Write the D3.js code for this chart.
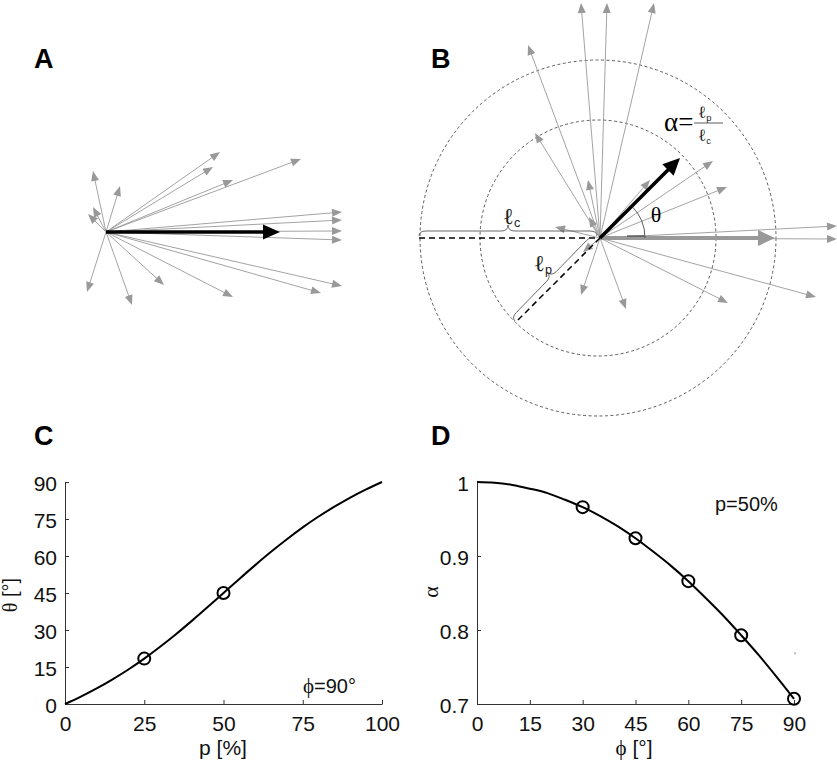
<!DOCTYPE html>
<html><head><meta charset="utf-8">
<script src="https://cdn.jsdelivr.net/npm/d3@7"></script>
<style>body{margin:0;background:#fff} svg{display:block}</style>
</head><body>
<svg id="c" width="837" height="764"></svg>
<script>
// ---------- DATA ----------
// Panel A: gray vectors (dx, dy) relative to origin, y pointing up
const vecA_dx = [114,107,127,195,-13,14,-18,-13,236,236,236,236,236,215,127,58,26,-19];
const vecA_dy = [80,65,52,73,61,46,18,25,20,12,1,-8,-54,-61,-65,-53,-73,-60];
const meanA = [174, 0];
// Panel B: gray vectors
const vecB_dx = [-19,7,54,-72,-65,-12,-11,-45,-17,-19,26,128,216,237,237,127,113,50];
const vecB_dy = [235,235,235,193,105,58,21,11,-14,-57,-71,-65,-59,-1,12,51,77,58];
const refB = [175, 0];
const meanB = [80, 80];
const circleRadii = [178, 118];
// Panel C: theta vs p (phi = 90)
const pC = [0,5,10,15,20,25,30,35,40,45,50,55,60,65,70,75,80,85,90,95,100];
const thetaC = [0,3.0,6.3,10.0,14.0,18.4,23.2,28.3,33.7,39.3,45,50.7,56.3,61.7,66.8,71.6,76.0,80.0,83.7,87.0,90];
const markP = [25, 50];
const markTheta = [18.4, 45];
const ticksCx = [0,25,50,75,100];
const ticksCy = [0,15,30,45,60,75,90];
// Panel D: alpha vs phi (p = 50%)
const phiD = [0,5,10,15,20,25,30,35,40,45,50,55,60,65,70,75,80,85,90];
const alphaD = [1,0.999,0.996,0.991,0.985,0.976,0.966,0.954,0.940,0.924,0.906,0.887,0.866,0.843,0.819,0.793,0.766,0.737,0.707];
const markPhi = [30,45,60,75,90];
const markAlpha = [0.966,0.924,0.866,0.793,0.707];
const ticksDx = [0,15,30,45,60,75,90];
const ticksDy = [0.7,0.8,0.9,1];

// ---------- DRAW ----------
const svg = d3.select("#c");
const SANS = "'Liberation Sans', Arial, Helvetica, sans-serif";
const SERIF = "'Liberation Serif', 'DejaVu Serif', serif";
const GRAY = "#999";

function arrow(g, x0, y0, x1, y1, color, lw, hl, hw) {
  const dx = x1 - x0, dy = y1 - y0, L = Math.hypot(dx, dy), ux = dx / L, uy = dy / L;
  const bx = x1 - ux * hl, by = y1 - uy * hl;
  g.append("line").attr("x1", x0).attr("y1", y0).attr("x2", bx + ux).attr("y2", by + uy)
    .attr("stroke", color).attr("stroke-width", lw);
  g.append("path").attr("d", `M${x1},${y1}L${bx - uy * hw},${by + ux * hw}L${bx + uy * hw},${by - ux * hw}Z`)
    .attr("fill", color);
}
function label(txt, x, y) {
  svg.append("text").attr("x", x).attr("y", y).text(txt)
    .attr("font-family", SANS).attr("font-weight", "bold").attr("font-size", 27).attr("fill", "#000");
}
label("A", 34, 68); label("B", 431, 68); label("C", 34, 445); label("D", 431, 445);

// Panel A
const xA = d3.scaleLinear().domain([0, 1]).range([106, 107]);
const yA = d3.scaleLinear().domain([0, 1]).range([232, 231]);
const gA = svg.append("g");
vecA_dx.forEach((dx, i) => arrow(gA, xA(0), yA(0), xA(dx), yA(vecA_dy[i]), GRAY, 0.9, 10, 4));
arrow(gA, xA(0), yA(0), xA(meanA[0]), yA(meanA[1]), "#000", 3.5, 17, 7.5);

// Panel B
const xB = d3.scaleLinear().domain([0, 1]).range([600, 601]);
const yB = d3.scaleLinear().domain([0, 1]).range([238, 237]);
const gB = svg.append("g");
gB.selectAll("circle").data(circleRadii).join("circle")
  .attr("cx", xB(-2)).attr("cy", yB(0)).attr("r", d => xB(d) - xB(0))
  .attr("fill", "none").attr("stroke", "#333").attr("stroke-width", 0.8).attr("stroke-dasharray", "3,2.5");
vecB_dx.forEach((dx, i) => arrow(gB, xB(0), yB(0), xB(dx), yB(vecB_dy[i]), GRAY, 0.9, 10, 4));
arrow(gB, xB(0), yB(0), xB(refB[0]), yB(refB[1]), GRAY, 4, 17, 8);
arrow(gB, xB(0), yB(0), xB(meanB[0]), yB(meanB[1]), "#000", 3.5, 17, 8);
// dashed lines
gB.append("line").attr("x1", xB(-181)).attr("y1", yB(0)).attr("x2", xB(0)).attr("y2", yB(0))
  .attr("stroke", "#000").attr("stroke-width", 1.5).attr("stroke-dasharray", "6,4");
gB.append("line").attr("x1", xB(0)).attr("y1", yB(0)).attr("x2", xB(-83)).attr("y2", yB(-83))
  .attr("stroke", "#000").attr("stroke-width", 1.5).attr("stroke-dasharray", "6,4");
// braces
function brace(p0, p1, nx, ny, flat, tip, r) {
  const dx = p1[0] - p0[0], dy = p1[1] - p0[1], L = Math.hypot(dx, dy), ux = dx / L, uy = dy / L;
  const pt = (u, v) => `${p0[0] + ux * u + nx * v},${p0[1] + uy * u + ny * v}`;
  return `M${pt(0,0)}Q${pt(0,flat)} ${pt(r,flat)}L${pt(L/2-r,flat)}Q${pt(L/2,flat)} ${pt(L/2,tip)}` +
         `Q${pt(L/2,flat)} ${pt(L/2+r,flat)}L${pt(L-r,flat)}Q${pt(L,flat)} ${pt(L,0)}`;
}
gB.append("path").attr("d", brace([xB(-181), yB(2)], [xB(-3), yB(2)], 0, -1, 5, 11, 7))
  .attr("fill", "none").attr("stroke", "#444").attr("stroke-width", 0.8);
gB.append("path").attr("d", brace([xB(-85), yB(-83)], [xB(-5), yB(-1)], -0.7071, -0.7071, 5, 11, 7))
  .attr("fill", "none").attr("stroke", "#444").attr("stroke-width", 0.8);
// theta arc
const ap = d3.path(); ap.arc(xB(0), yB(0), 45, 0, -Math.PI / 4, true);
gB.append("path").attr("d", ap.toString()).attr("fill", "none").attr("stroke", "#333").attr("stroke-width", 0.8);
gB.append("line").attr("x1", xB(27)).attr("y1", yB(2)).attr("x2", xB(44)).attr("y2", yB(2))
  .attr("stroke", "#444").attr("stroke-width", 1.2);
// texts
gB.append("text").attr("x", 656).attr("y", 222).attr("text-anchor", "middle")
  .attr("font-family", SERIF).attr("font-size", 22).text("θ");
function ell(x, y, sub, fs) {
  const t = gB.append("text").attr("x", x).attr("y", y).attr("font-family", "'DejaVu Serif', serif")
    .attr("font-size", fs).attr("fill", "#222");
  t.append("tspan").text("ℓ");
  t.append("tspan").attr("dy", 3).attr("font-size", fs * 0.55).attr("font-family", SANS).text(sub);
}
ell(503, 224, "c", 23);
ell(534, 271, "p", 23);
gB.append("text").attr("x", 664).attr("y", 131).attr("font-family", SERIF).attr("font-size", 27).text("α=");
gB.append("line").attr("x1", 694).attr("y1", 123).attr("x2", 723).attr("y2", 123).attr("stroke", "#333").attr("stroke-width", 0.8);
ell(698, 118, "p", 17);
ell(698, 141, "c", 17);

// Axis helper
function styleAxis(g) {
  g.select(".domain").attr("stroke", "#333").attr("stroke-width", 1);
  g.selectAll(".tick line").attr("stroke", "#333");
  g.selectAll("text").attr("font-family", SANS).attr("font-size", 21).attr("fill", "#111");
}

// Panel C
const xC = d3.scaleLinear().domain([0, 100]).range([65, 382]);
const yC = d3.scaleLinear().domain([0, 90]).range([704, 482]);
const gC = svg.append("g");
gC.append("g").attr("transform", `translate(0,${yC(0)})`)
  .call(d3.axisBottom(xC).tickValues(ticksCx).tickSize(-4).tickSizeOuter(0).tickPadding(12)).call(styleAxis);
gC.append("g").attr("transform", `translate(${xC(0)},0)`)
  .call(d3.axisLeft(yC).tickValues(ticksCy).tickSize(-4).tickSizeOuter(0).tickPadding(8)).call(styleAxis)
  .selectAll("text").attr("dy", "0.42em");
gC.append("path").datum(pC.map((p, i) => [p, thetaC[i]]))
  .attr("d", d3.line().x(d => xC(d[0])).y(d => yC(d[1])).curve(d3.curveMonotoneX))
  .attr("fill", "none").attr("stroke", "#000").attr("stroke-width", 2);
gC.selectAll("circle.m").data(markP).join("circle").attr("class", "m")
  .attr("cx", d => xC(d)).attr("cy", (d, i) => yC(markTheta[i])).attr("r", 6)
  .attr("fill", "none").attr("stroke", "#000").attr("stroke-width", 2);
{
  const t = gC.append("text").attr("x", 303).attr("y", 693).attr("font-family", SANS).attr("font-size", 20).attr("fill", "#111");
  t.append("tspan").attr("font-family", SERIF).attr("font-size", 21).text("ϕ");
  t.append("tspan").text("=90°");
  const yl = gC.append("text").attr("transform", "translate(17,595) rotate(-90)").attr("text-anchor", "middle")
    .attr("font-family", SANS).attr("font-size", 20).attr("fill", "#111");
  yl.append("tspan").attr("font-family", SERIF).text("θ");
  yl.append("tspan").text(" [°]");
  gC.append("text").attr("x", 223).attr("y", 755).attr("text-anchor", "middle")
    .attr("font-family", SANS).attr("font-size", 21).attr("fill", "#111").text("p [%]");
}

// Panel D
const xD = d3.scaleLinear().domain([0, 90]).range([477, 794]);
const yD = d3.scaleLinear().domain([0.7, 1]).range([704, 482]);
const gD = svg.append("g");
gD.append("g").attr("transform", `translate(0,${yD(0.7)})`)
  .call(d3.axisBottom(xD).tickValues(ticksDx).tickSize(-4).tickSizeOuter(0).tickPadding(12)).call(styleAxis);
gD.append("g").attr("transform", `translate(${xD(0)},0)`)
  .call(d3.axisLeft(yD).tickValues(ticksDy).tickFormat(d => d === 1 ? "1" : d.toFixed(1)).tickSize(-4).tickSizeOuter(0).tickPadding(8)).call(styleAxis)
  .selectAll("text").attr("dy", "0.42em");
gD.append("path").datum(phiD.map((p, i) => [p, alphaD[i]]))
  .attr("d", d3.line().x(d => xD(d[0])).y(d => yD(d[1])).curve(d3.curveMonotoneX))
  .attr("fill", "none").attr("stroke", "#000").attr("stroke-width", 2);
gD.selectAll("circle.m").data(markPhi).join("circle").attr("class", "m")
  .attr("cx", d => xD(d)).attr("cy", (d, i) => yD(markAlpha[i])).attr("r", 6)
  .attr("fill", "none").attr("stroke", "#000").attr("stroke-width", 2);
gD.append("line").attr("x1", xD(90.3)).attr("y1", yD(0.77)).attr("x2", xD(90.3)).attr("y2", yD(0.767))
  .attr("stroke", "#888").attr("stroke-width", 1);
{
  gD.append("text").attr("x", 715).attr("y", 511).attr("font-family", SANS).attr("font-size", 20).attr("fill", "#111").text("p=50%");
  gD.append("text").attr("transform", "translate(438,592) rotate(-90)").attr("text-anchor", "middle")
    .attr("font-family", SERIF).attr("font-size", 22).attr("fill", "#111").text("α");
  const xl = gD.append("text").attr("x", 634).attr("y", 755).attr("text-anchor", "middle")
    .attr("font-family", SANS).attr("font-size", 21).attr("fill", "#111");
  xl.append("tspan").attr("font-family", SERIF).text("ϕ");
  xl.append("tspan").text(" [°]");
}
</script>
</body></html>
